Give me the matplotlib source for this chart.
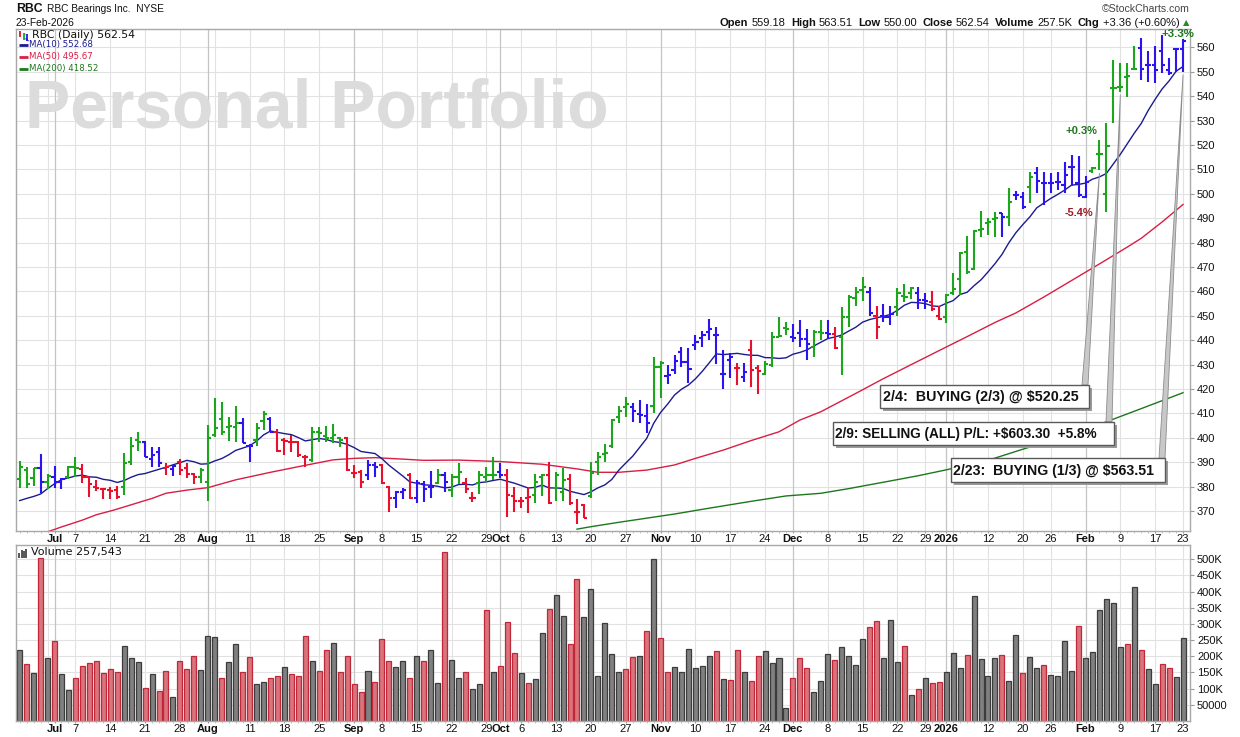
import numpy as np
import pandas as pd
import matplotlib
matplotlib.use("Agg")
import matplotlib.pyplot as plt
from matplotlib.patches import Polygon, Rectangle
from matplotlib.lines import Line2D

plt.rcParams['font.family'] = ['Liberation Sans', 'DejaVu Sans']

# ---------------- data ----------------
holidays = ["2025-07-04", "2025-09-01", "2025-11-27", "2025-12-25",
            "2026-01-01", "2026-01-19", "2026-02-16"]
start_date, end_date = "2025-06-24", "2026-02-23"

opens = [383.0, 387.0, 383.7, 387.5, 382.1, 384.1, 381.8, 384.1, 387.9, 387.1,
         383.8, 379.7, 378.9, 378.7, 378.7, 380.0, 390.3, 399.1, 398.2, 391.2,
         394.1, 387.5, 387.1, 390.3, 387.5, 385.1, 384.1, 382.1, 401.2, 407.6,
         404.6, 404.6, 406.2, 396.8, 399.1, 406.9, 407.7, 402.6, 399.1, 398.2,
         398.2, 392.3, 390.9, 402.6, 400.9, 399.8, 400.1, 400.1, 385.5, 385.9,
         384.8, 388.9, 388.9, 380.0, 375.3, 377.7, 384.8, 375.3, 381.0, 380.0,
         381.4, 384.8, 378.7, 384.1, 381.4, 375.5, 381.4, 384.1, 384.8, 386.2,
         384.8, 376.3, 374.1, 375.2, 376.6, 384.1, 384.8, 379.3, 377.9, 383.2,
         369.8, 372.5, 376.0, 390.2, 393.4, 396.7, 408.7, 412.8, 412.5, 409.8,
         409.0, 413.0, 429.0, 425.4, 427.8, 435.3, 431.2, 438.1, 440.8, 443.5,
         442.2, 426.2, 431.9, 428.5, 425.1, 436.0, 428.5, 426.2, 430.0, 441.4,
         445.0, 441.5, 443.1, 440.4, 437.4, 443.5, 443.1, 442.6, 441.5, 449.7,
         457.5, 460.6, 459.9, 450.0, 450.0, 449.7, 453.8, 458.2, 459.2, 459.5,
         456.5, 455.8, 450.0, 449.7, 459.2, 465.0, 476.3, 469.1, 485.2, 487.9,
         489.6, 492.0, 490.4, 499.5, 498.9, 502.7, 508.4, 504.3, 504.6, 505.0,
         503.6, 511.2, 504.3, 498.9, 509.5, 516.4, 500.0, 543.3, 544.0, 548.0,
         551.1, 559.7, 552.8, 552.8, 558.7, 550.8, 559.3, 559.18]

highs = [390.5, 387.9, 387.5, 393.4, 385.1, 388.5, 383.4, 388.5, 392.2, 389.3,
         384.1, 382.8, 379.6, 380.0, 380.3, 393.7, 400.5, 402.4, 398.7, 396.4,
         396.4, 389.8, 388.9, 391.2, 389.6, 385.5, 387.5, 405.3, 416.2, 414.6,
         408.7, 413.1, 408.0, 397.4, 406.0, 411.0, 408.6, 403.5, 399.8, 401.2,
         398.7, 393.0, 404.6, 404.6, 405.0, 405.6, 400.5, 400.5, 388.9, 386.9,
         390.9, 390.0, 389.2, 380.3, 378.3, 379.3, 385.5, 382.7, 382.3, 386.4,
         387.2, 385.9, 385.1, 389.6, 383.4, 378.0, 386.4, 388.2, 392.3, 389.6,
         387.2, 380.0, 375.9, 379.6, 385.1, 385.1, 390.3, 386.2, 387.8, 385.1,
         375.0, 372.8, 390.0, 394.3, 397.5, 407.6, 413.0, 416.6, 414.5, 415.5,
         414.0, 433.2, 431.6, 429.9, 434.0, 437.1, 436.7, 442.2, 443.9, 448.6,
         445.3, 436.0, 434.6, 430.8, 430.8, 440.1, 430.0, 431.6, 443.5, 449.4,
         447.6, 446.7, 448.3, 444.5, 444.2, 448.3, 448.3, 445.6, 453.8, 458.6,
         461.7, 465.8, 461.7, 454.1, 454.9, 454.1, 461.3, 463.1, 461.7, 461.7,
         459.2, 460.0, 454.1, 459.0, 467.7, 476.3, 482.7, 485.2, 493.1, 490.0,
         492.5, 492.3, 502.3, 501.3, 500.9, 509.1, 511.2, 509.1, 508.4, 509.1,
         513.2, 515.9, 515.5, 507.3, 511.2, 522.1, 528.9, 554.9, 553.5, 553.5,
         560.6, 563.8, 558.7, 560.6, 565.1, 555.6, 559.7, 563.51]

lows = [379.6, 379.6, 380.3, 377.3, 378.9, 379.6, 378.9, 383.0, 384.1, 381.4,
        375.9, 378.2, 374.8, 374.8, 374.8, 376.6, 388.9, 394.8, 392.0, 387.9,
        388.2, 384.8, 384.5, 384.8, 383.7, 381.1, 381.4, 374.3, 400.5, 401.2,
        398.7, 398.5, 397.8, 390.0, 396.8, 403.2, 402.6, 394.4, 393.0, 394.4,
        392.3, 388.2, 390.3, 398.5, 398.5, 397.8, 396.4, 386.4, 383.4, 379.6,
        382.7, 384.1, 381.0, 369.8, 371.4, 375.0, 375.0, 373.2, 373.6, 375.5,
        381.0, 377.7, 375.9, 381.0, 377.3, 373.9, 376.9, 381.8, 382.7, 383.7,
        367.7, 369.8, 371.1, 369.1, 373.2, 376.3, 372.8, 374.1, 374.1, 372.5,
        364.6, 367.1, 375.5, 384.8, 390.2, 395.7, 406.2, 408.7, 406.6, 406.0,
        401.9, 410.3, 416.2, 422.1, 426.2, 428.9, 422.4, 436.0, 437.4, 440.1,
        430.3, 419.9, 424.4, 421.7, 423.0, 421.0, 418.0, 425.8, 429.2, 441.4,
        442.2, 439.4, 437.4, 431.9, 433.0, 440.1, 440.4, 436.3, 425.8, 445.6,
        454.1, 456.2, 450.0, 440.4, 447.6, 446.3, 450.0, 455.8, 456.8, 452.7,
        452.7, 452.1, 448.3, 447.2, 458.6, 458.6, 467.2, 468.8, 482.2, 483.2,
        482.5, 482.5, 486.8, 497.5, 493.7, 496.1, 500.2, 495.5, 500.2, 501.6,
        500.2, 503.2, 498.9, 498.2, 508.4, 509.8, 492.7, 528.9, 541.9, 539.8,
        550.8, 546.7, 546.0, 545.6, 549.7, 548.7, 550.1, 550.00]

closes = [387.9, 381.0, 387.5, 382.1, 384.4, 381.8, 383.0, 387.9, 387.5, 384.1,
          381.1, 379.3, 378.9, 378.2, 375.6, 389.6, 396.7, 398.5, 392.0, 393.0,
          389.6, 387.9, 388.5, 387.0, 385.1, 384.1, 386.8, 399.8, 403.9, 402.5,
          405.0, 406.0, 397.8, 396.8, 403.9, 409.7, 402.6, 394.6, 398.7, 398.2,
          393.0, 392.3, 402.6, 402.0, 399.8, 401.0, 399.1, 386.9, 385.5, 382.0,
          388.9, 388.2, 381.4, 375.3, 377.7, 378.5, 375.3, 381.5, 379.0, 380.0,
          384.8, 381.8, 384.1, 386.0, 379.1, 375.5, 384.8, 384.8, 384.8, 384.8,
          376.6, 374.1, 374.1, 375.9, 381.8, 384.8, 373.2, 384.8, 382.7, 373.2,
          369.8, 367.3, 385.5, 392.0, 394.0, 407.3, 411.0, 414.0, 411.0, 409.4,
          406.0, 429.0, 430.5, 425.8, 431.6, 431.2, 428.1, 439.4, 442.2, 444.5,
          442.0, 426.0, 433.0, 428.5, 427.0, 428.0, 427.5, 430.3, 441.5, 441.8,
          444.5, 440.8, 440.4, 438.5, 443.5, 443.1, 442.6, 436.7, 449.7, 457.9,
          459.9, 462.0, 451.1, 445.6, 449.7, 450.8, 459.2, 457.9, 461.3, 456.5,
          456.2, 452.7, 448.6, 458.6, 460.9, 475.9, 468.1, 484.9, 485.5, 488.6,
          490.0, 490.5, 496.8, 499.5, 494.5, 507.1, 505.4, 504.3, 504.6, 505.0,
          507.7, 511.2, 499.5, 505.0, 510.5, 516.4, 519.6, 543.3, 544.0, 548.3,
          551.1, 551.1, 552.8, 550.8, 552.8, 549.4, 559.18, 562.54]

bar_colors = ("gggbgbbggr" "rrrrrgggbb" "brbrrrgggg" "ggbbggbrrr" "rrgggggrrr"
              "bbrrbbrbbb" "gbggrrgggb" "rrrrggrggr" "rrggggggbb" "bggbbbbbbb"
              "bbbrbrrggg" "gbbbggbrgg" "ggbrbbgggb" "brrggggggg" "gbgbbgbbbb"
              "bbbbgggggg" "gbbbbbbb")

volumes_k = [221, 175, 147, 505, 196, 246, 144, 97, 134, 171,
             178, 187, 147, 162, 153, 233, 196, 181, 103, 144,
             94, 156, 75, 184, 162, 202, 159, 264, 261, 134,
             181, 237, 150, 199, 113, 122, 134, 140, 168, 144,
             140, 264, 184, 156, 221, 240, 150, 202, 113, 91,
             156, 122, 255, 184, 168, 187, 134, 202, 187, 218,
             119, 522, 190, 134, 150, 100, 113, 342, 153, 171,
             305, 209, 147, 116, 131, 271, 345, 388, 326, 237,
             438, 320, 407, 140, 302, 206, 153, 161, 198, 201,
             279, 500, 257, 152, 167, 152, 223, 164, 170, 201,
             217, 130, 127, 220, 152, 124, 201, 217, 180, 195,
             40, 133, 195, 164, 89, 124, 208, 189, 229, 201,
             173, 254, 291, 310, 195, 313, 183, 232, 80, 99,
             133, 117, 120, 152, 211, 164, 204, 385, 192, 139,
             195, 204, 124, 267, 148, 198, 164, 173, 142, 139,
             248, 155, 295, 195, 214, 344, 376, 366, 229, 239,
             413, 220, 161, 114, 176, 164, 136, 257.543]

volume_colors = ("krkrkrkkrr" "rrrrrkkkrk" "rrkrrrkkkr" "kkrrkkrrkr" "rrkrrkrrrr"
                 "krrrkkrkrk" "krkkrkkrkr" "rrkrkkrkkr" "rkkkkkkrrk" "rkrrkkkkkk"
                 "rkrrkrrkkk" "krrrkkkrkk" "kkrrkkkrkr" "krrkkkrkkk" "krkkrkkrkk"
                 "kkrkkkkkkr" "krkkrrkk")

ma10_head = [374.3, 375.2, 376.0, 377.0, 379.2, 381.2, 382.9, 383.6, 384.4]
ma50_bar = [5, 7, 10, 12, 14.5, 20, 22, 25, 28, 32, 37, 41, 46, 49, 52, 56, 59, 64, 70,
            76, 81, 84, 87, 91, 95, 98, 102, 106, 110, 113, 116, 121, 125, 130, 133,
            137, 141, 144, 148, 152, 156, 160, 162, 165, 168]
ma50_val = [361.5, 363.5, 366.3, 368.5, 370.4, 375.2, 377.3, 378.6, 379.6, 382.8, 385.9,
            388.2, 391.0, 391.6, 391.9, 391.3, 390.8, 390.9, 390.3, 389.2, 387.3, 385.9,
            385.9, 386.8, 388.9, 391.6, 395.0, 398.9, 402.5, 407.3, 410.7, 418.2, 424.3,
            431.5, 435.8, 441.5, 447.3, 451.2, 457.7, 464.5, 471.3, 478.2, 481.8, 488.5,
            495.67]
ma200_bar = [81, 83, 87, 95, 100, 106, 111, 116, 120, 125.5, 130, 134, 140, 144.6, 150,
             157, 162, 168]
ma200_val = [362.6, 363.6, 365.4, 368.8, 371.2, 374.0, 376.2, 377.3, 379.2, 382.1, 384.5,
             386.9, 390.8, 395.0, 399.8, 406.6, 412.0, 418.52]

tick_dates = ["2025-07-01", "2025-07-07", "2025-07-14", "2025-07-21", "2025-07-28",
              "2025-08-01", "2025-08-11", "2025-08-18", "2025-08-25", "2025-09-02",
              "2025-09-08", "2025-09-15", "2025-09-22", "2025-09-29", "2025-10-01",
              "2025-10-06", "2025-10-13", "2025-10-20", "2025-10-27", "2025-11-03",
              "2025-11-10", "2025-11-17", "2025-11-24", "2025-12-01", "2025-12-08",
              "2025-12-15", "2025-12-22", "2025-12-29", "2026-01-02", "2026-01-12",
              "2026-01-20", "2026-01-26", "2026-02-02", "2026-02-09", "2026-02-17",
              "2026-02-23"]
tick_labels = ["Jul", "7", "14", "21", "28", "Aug", "11", "18", "25", "Sep", "8", "15",
               "22", "29", "Oct", "6", "13", "20", "27", "Nov", "10", "17", "24", "Dec",
               "8", "15", "22", "29", "2026", "12", "20", "26", "Feb", "9", "17", "23"]

price_ticks = list(range(370, 561, 10))
vol_ticks = list(range(50, 501, 50))
vol_tick_labels = ["50000"] + [f"{v}K" for v in range(100, 501, 50)]

trade_bars = [156, 159, 168]
trade_texts = ["2/4:  BUYING (2/3) @ $520.25",
               "2/9: SELLING (ALL) P/L: +$603.30  +5.8%",
               "2/23:  BUYING (1/3) @ $563.51"]

# ---------------- layout ----------------
W, H = 1240, 737
fig = plt.figure(figsize=(W / 100, H / 100), dpi=100)
fig.patch.set_facecolor("white")


def fx(px):
    return px / W


def fy(py):
    return 1 - py / H


L, R = 15.8, 1190.0
ax = fig.add_axes([fx(L), fy(531), (R - L) / W, (531 - 29) / H])
axv = fig.add_axes([fx(L), fy(721), (R - L) / W, (721 - 545) / H])

dates = pd.bdate_range(start_date, end_date)
dates = dates[~dates.isin(pd.to_datetime(holidays))]
n = len(dates)
x = np.arange(n)

# grid lines
iso = [(d.isocalendar()[0], d.isocalendar()[1]) for d in dates]
week_start = [i for i in range(1, n) if iso[i] != iso[i - 1]]
month_start = [i for i in range(1, n) if dates[i].month != dates[i - 1].month]
for a in (ax, axv):
    for i in week_start:
        if i not in month_start:
            a.axvline(i, color="#e2e2e2", lw=0.8, zorder=0.5)
    for i in month_start:
        a.axvline(i, color="#c4c4c4", lw=0.9, zorder=0.55)
for p in price_ticks:
    ax.axhline(p, color="#e2e2e2", lw=0.8, zorder=0.5)
for v in vol_ticks:
    axv.axhline(v, color="#e2e2e2", lw=0.8, zorder=0.5)

# price bars
cmap = {"g": "#1ea51e", "b": "#2c14ee", "r": "#e8112d"}
cols = [cmap[c] for c in bar_colors]
o = np.array(opens); h = np.array(highs); l = np.array(lows); c = np.array(closes)
ax.vlines(x, l, h, colors=cols, lw=1.5, zorder=3)
ax.hlines(o, x - 0.45, x, colors=cols, lw=1.5, zorder=3)
ax.hlines(c, x, x + 0.45, colors=cols, lw=1.5, zorder=3)

# moving averages
ma10 = pd.Series(closes).rolling(10).mean().to_numpy()
ma10[:9] = ma10_head
ax.plot(x, ma10, color="#1b1b8f", lw=1.0, zorder=2.5)
ax.plot(np.array(ma50_bar) - 1, ma50_val, color="#d81e44", lw=1.0, zorder=2.4)
ax.plot(np.array(ma200_bar) - 1, ma200_val, color="#1d771d", lw=1.0, zorder=2.4)

# volume bars
vface = ["#d9737c" if k == "r" else "#808080" for k in volume_colors]
vedge = ["#c0283a" if k == "r" else "#3c3c3c" for k in volume_colors]
axv.bar(x, volumes_k, width=0.72, color=vface, edgecolor=vedge, linewidth=0.9, zorder=2)

# axes cosmetics
tick_pos = [dates.get_loc(pd.Timestamp(d)) for d in tick_dates]
for a in (ax, axv):
    a.set_xlim(-0.56, 168.0)
    a.set_xticks(tick_pos)
    a.set_xticklabels(tick_labels, fontsize=8)
    for t in a.get_xticklabels():
        s = t.get_text()
        if not (s.isdigit() and len(s) <= 2):
            t.set_fontweight("bold")
    a.set_xticks(x, minor=True)
    a.tick_params(axis="x", which="major", length=1.5, pad=0.8, color="#999999",
                  labelcolor="#111111")
    a.tick_params(axis="x", which="minor", length=1.5, color="#bbbbbb")
    a.yaxis.tick_right()
    a.tick_params(axis="y", length=3, pad=2, labelsize=8, color="#999999",
                  labelcolor="#111111")
    for s in a.spines.values():
        s.set_color("#a8a8a8")
        s.set_linewidth(1.0)

ax.set_ylim(361.84, 567.58)
ax.set_yticks(price_ticks)
ax.set_yticklabels([str(p) for p in price_ticks])
axv.set_ylim(0, 544)
axv.set_yticks(vol_ticks)
axv.set_yticklabels(vol_tick_labels)

renderer = fig.canvas.get_renderer()


def text_w(t):
    return t.get_window_extent(renderer).width


def fit_width(t, target):
    t.set_fontsize(t.get_fontsize() * target / text_w(t))


# watermark
wm = ax.text(fx(25), fy(127), "Personal Portfolio", transform=fig.transFigure,
             fontsize=49, fontweight="bold", color="#dcdcdc", va="baseline",
             ha="left", zorder=1)
fit_width(wm, 583)


def place_row(pieces, x_left, x_right, yc):
    ts = [fig.text(0, fy(yc), s, va="center", ha="left", **kw) for s, kw, g in pieces]
    gaps = sum(g for _, _, g in pieces)
    ws = [text_w(t) for t in ts]
    scale = (x_right - x_left - gaps) / sum(ws)
    for t in ts:
        t.set_fontsize(t.get_fontsize() * scale)
    ws = [text_w(t) for t in ts]
    cur = x_left
    for t, w, (_, _, g) in zip(ts, ws, pieces):
        t.set_x(fx(cur))
        cur += w + g


# top headers
t = fig.text(fx(16.6), fy(9), "RBC", fontsize=10, fontweight="bold", va="center",
             color="#111111")
fit_width(t, 26.5)
t = fig.text(fx(46.6), fy(9.5), "RBC Bearings Inc.  NYSE", fontsize=8, va="center",
             color="#111111")
fit_width(t, 117)
t = fig.text(fx(15.8), fy(22.7), "23-Feb-2026", fontsize=8, va="center", color="#111111")
fit_width(t, 59)
t = fig.text(fx(1101.7), fy(9), "\u00a9StockCharts.com", fontsize=8, va="center",
             color="#444444")
fit_width(t, 88)

B = dict(fontweight="bold", fontsize=8, color="#111111")
N = dict(fontsize=8, color="#111111")
place_row([("Open", B, 3.4), ("559.18", N, 5), ("High", B, 3.4), ("563.51", N, 5),
           ("Low", B, 3.4), ("550.00", N, 5), ("Close", B, 3.4), ("562.54", N, 5),
           ("Volume", B, 3.4), ("257.5K", N, 5), ("Chg", B, 3.4),
           ("+3.36 (+0.60%)", N, 3.5),
           ("\u25b2", dict(fontsize=6, color="#2a8a2a", family="DejaVu Sans"), 0)],
          720, 1190, 22.5)

# price legend
def fig_line(x0, x1, y0, y1, color, lw):
    fig.add_artist(Line2D([fx(x0), fx(x1)], [fy(y0), fy(y1)], transform=fig.transFigure,
                          color=color, lw=lw, solid_capstyle="butt"))


fig_line(20, 20, 31, 37, "#e8112d", 1.3)
fig_line(18.5, 20, 33, 33, "#e8112d", 1.0)
fig_line(23.5, 23.5, 33, 40, "#1ea51e", 1.3)
fig_line(23.5, 25, 34, 34, "#1ea51e", 1.0)
fig_line(27, 27, 34, 41, "#2c14ee", 1.3)
fig_line(25.5, 28.5, 38.5, 41, "#2c14ee", 0.9)
t = fig.text(fx(31.6), fy(35.5), "RBC (Daily) 562.54", fontsize=7, va="center",
             color="#111111", family="DejaVu Sans")
fit_width(t, 104)
for label, color, yc, wt in [("MA(10) 552.68", "#1b1b8f", 45.0, 64.4),
                             ("MA(50) 495.67", "#d81e44", 56.8, 64.4),
                             ("MA(200) 418.52", "#1d771d", 68.6, 69.6)]:
    fig_line(19, 27.7, yc, yc, color, 2.0)
    t = fig.text(fx(28.8), fy(yc), label, fontsize=7, va="center", color=color,
                 family="DejaVu Sans")
    fit_width(t, wt)

# volume legend
for i, hh in enumerate([5, 8, 7, 9]):
    fig_line(19.5 + i * 2.2, 19.5 + i * 2.2, 557.5, 557.5 - hh, "#555555", 1.4)
t = fig.text(fx(30.8), fy(552.5), "Volume 257,543", fontsize=7, va="center",
             color="#111111", family="DejaVu Sans")
fit_width(t, 91.5)

# percent labels
for txt, xl, yc, wt, col in [("+3.3%", 1162, 34, 33, "#1d771d"),
                             ("+0.3%", 1065, 130.5, 32, "#1d771d"),
                             ("-5.4%", 1065, 212.5, 29, "#a01822")]:
    t = fig.text(fx(xl), fy(yc), txt, fontsize=9, fontweight="bold", va="center",
                 color=col, zorder=6)
    fit_width(t, wt)

# trade annotation boxes with leader wedges
boxes = [(880.0, 1089.3, 385.0, 408.3, 882.7, 194.0, 1085.0),
         (832.7, 1114.0, 421.7, 445.0, 835.0, 264.3, 1109.0),
         (950.7, 1165.0, 458.3, 481.7, 952.7, 201.6, 1162.0)]
inv = ax.transData.inverted()
for (bx0, bx1, by0, by1, tx, tw, lx), bar_no, txt in zip(boxes, trade_bars, trade_texts):
    i = bar_no - 1
    apex = (i, lows[i] - 1.2)
    b1 = inv.transform((lx - 3.0, H - by0))
    b2 = inv.transform((lx + 3.0, H - by0))
    ax.add_patch(Polygon([b1, b2, apex], closed=True, facecolor="#c8c8c8",
                         edgecolor="#8c8c8c", lw=0.6, zorder=4, clip_on=False))
    fig.add_artist(Rectangle((fx(bx0 + 3), fy(by1 + 3)), (bx1 - bx0) / W, (by1 - by0) / H,
                             transform=fig.transFigure, facecolor="#9a9a9a",
                             edgecolor="none", zorder=5))
    fig.add_artist(Rectangle((fx(bx0), fy(by1)), (bx1 - bx0) / W, (by1 - by0) / H,
                             transform=fig.transFigure, facecolor="white",
                             edgecolor="#5a5a5a", lw=1.0, zorder=5.5))
    t = fig.text(fx(tx), fy((by0 + by1) / 2 + 0.5), txt, fontsize=10, fontweight="bold",
                 va="center", ha="left", color="#111111", zorder=6)
    fit_width(t, tw)

fig.savefig("out.png", dpi=100, facecolor="white")
